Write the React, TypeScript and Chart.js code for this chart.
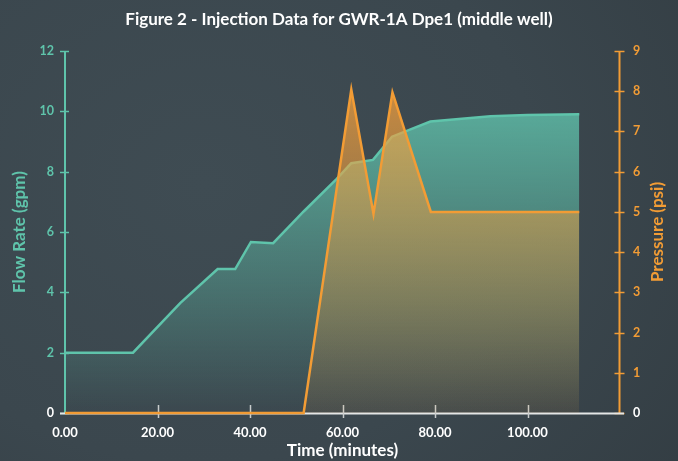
import React, { useEffect, useRef } from "react";
import { Chart, registerables } from "chart.js";

Chart.register(...registerables);

const TITLE = "Figure 2 - Injection Data for GWR-1A Dpe1 (middle well)";
const X_TITLE = "Time (minutes)";
const FLOW_TITLE = "Flow Rate (gpm)";
const PRESSURE_TITLE = "Pressure (psi)";

const flowTimes = [0, 14.7, 24.9, 33.0, 36.8, 40.2, 45.0, 51.6, 58.7, 61.9, 66.6, 70.7, 79.0, 92.0, 100.0, 111.2];
const flowValues = [2.0, 2.0, 3.64, 4.77, 4.77, 5.67, 5.63, 6.68, 7.75, 8.28, 8.39, 9.16, 9.66, 9.84, 9.88, 9.9];

const pressureTimes = [0, 51.6, 61.9, 66.7, 70.8, 79.1, 111.2];
const pressureValues = [0, 0, 8.04, 4.95, 7.97, 5.0, 5.0];

const xTickMax = 100;

const TEAL = "#5fc4ab";
const ORANGE = "#f29c35";
const FONT = "Lato, 'Open Sans', sans-serif";

const axisPlugin = {
  id: "customAxes",
  beforeDatasetsDraw(chart: any) {
    const { ctx, chartArea } = chart;
    const { left, right, top, bottom } = chartArea;
    const sx = chart.scales.x;
    const sy = chart.scales.y;
    const sy1 = chart.scales.y1;
    ctx.save();
    // left axis
    ctx.strokeStyle = TEAL;
    ctx.lineWidth = 2;
    ctx.beginPath();
    ctx.moveTo(left, top);
    ctx.lineTo(left, bottom);
    ctx.stroke();
    sy.ticks.forEach((t: any) => {
      const y = Math.round(sy.getPixelForValue(t.value)) + 0.5;
      ctx.lineWidth = 1.5;
      ctx.beginPath();
      ctx.moveTo(left - 5, y);
      ctx.lineTo(left + 4, y);
      ctx.stroke();
    });
    // right axis
    ctx.strokeStyle = ORANGE;
    ctx.lineWidth = 2;
    const rx = right - 0.5;
    ctx.beginPath();
    ctx.moveTo(rx, top);
    ctx.lineTo(rx, bottom);
    ctx.stroke();
    sy1.ticks.forEach((t: any) => {
      const y = Math.round(sy1.getPixelForValue(t.value)) + 0.5;
      ctx.lineWidth = 1.5;
      ctx.beginPath();
      ctx.moveTo(rx - 5, y);
      ctx.lineTo(rx + 5, y);
      ctx.stroke();
    });
    // x axis
    ctx.strokeStyle = "#e4e6e6";
    ctx.lineWidth = 2;
    ctx.beginPath();
    ctx.moveTo(left - 5, bottom + 0.5);
    ctx.lineTo(right + 4, bottom + 0.5);
    ctx.stroke();
    ctx.strokeStyle = "#c9cccc";
    ctx.lineWidth = 1.5;
    sx.ticks.forEach((t: any) => {
      if (t.value === 0) return;
      const x = Math.round(sx.getPixelForValue(t.value)) + 0.5;
      ctx.beginPath();
      ctx.moveTo(x, bottom - 8);
      ctx.lineTo(x, bottom + 5);
      ctx.stroke();
    });
    ctx.restore();
  },
  afterDraw(chart: any) {
    const { ctx, chartArea } = chart;
    ctx.save();
    ctx.translate(657.5, (chartArea.top + chartArea.bottom) / 2);
    ctx.rotate(-Math.PI / 2);
    ctx.font = `bold 17px ${FONT}`;
    ctx.fillStyle = ORANGE;
    ctx.textAlign = "center";
    ctx.textBaseline = "middle";
    ctx.fillText(PRESSURE_TITLE, 0, 0);
    ctx.restore();
  },
};

function vGradient(chart: any, stops: [number, string][]) {
  const { ctx, chartArea } = chart;
  if (!chartArea) return "rgba(0,0,0,0)";
  const g = ctx.createLinearGradient(0, chartArea.top, 0, chartArea.bottom);
  stops.forEach(([o, c]) => g.addColorStop(o, c));
  return g;
}

export default function App() {
  const ref = useRef<HTMLCanvasElement>(null);

  useEffect(() => {
    if (!ref.current) return;
    const chart = new Chart(ref.current, {
      type: "line",
      data: {
        datasets: [
          {
            label: "Pressure",
            data: pressureTimes.map((t, i) => ({ x: t, y: pressureValues[i] })),
            yAxisID: "y1",
            borderColor: ORANGE,
            borderWidth: 2.5,
            pointRadius: 0,
            fill: "origin",
            backgroundColor: (c: any) =>
              vGradient(c.chart, [
                [0, "rgba(242,160,62,0.85)"],
                [1, "rgba(242,160,62,0.08)"],
              ]),
            clip: 6,
            order: 0,
          } as any,
          {
            label: "Flow",
            data: flowTimes.map((t, i) => ({ x: t, y: flowValues[i] })),
            yAxisID: "y",
            borderColor: TEAL,
            borderWidth: 2.5,
            pointRadius: 0,
            fill: "origin",
            backgroundColor: (c: any) =>
              vGradient(c.chart, [
                [0, "rgba(98,200,176,0.92)"],
                [1, "rgba(98,200,176,0.0)"],
              ]),
            clip: 6,
            order: 1,
          } as any,
        ],
      },
      options: {
        responsive: false,
        animation: false,
        layout: { padding: 0 },
        plugins: {
          legend: { display: false },
          tooltip: { enabled: false },
          title: {
            display: true,
            text: TITLE,
            color: "#ffffff",
            font: { family: FONT, size: 17, weight: "bold", lineHeight: 1.2 },
            padding: { top: 9, bottom: 21.6 },
          },
        },
        scales: {
          x: {
            type: "linear",
            min: 0,
            max: 120,
            afterBuildTicks: (s: any) => {
              s.ticks = s.ticks.filter((t: any) => t.value <= xTickMax);
            },
            afterFit: (s: any) => {
              s.height = 48;
            },
            grid: { display: false, drawTicks: false },
            border: { display: false },
            ticks: {
              stepSize: 20,
              color: "#ffffff",
              padding: 12,
              maxRotation: 0,
              font: { family: FONT, size: 13, weight: "bold" },
              callback: (v: any) => Number(v).toFixed(2),
            },
            title: {
              display: true,
              text: X_TITLE,
              color: "#ffffff",
              font: { family: FONT, size: 17, weight: "bold", lineHeight: 1 },
              padding: { top: 0, bottom: 1.5 },
            },
          },
          y: {
            type: "linear",
            position: "left",
            min: 0,
            max: 12,
            afterFit: (s: any) => {
              s.width = 65;
            },
            grid: { display: false, drawTicks: false },
            border: { display: false },
            ticks: {
              stepSize: 2,
              padding: 11,
              color: (c: any) => (c.tick && c.tick.value === 0 ? "#ffffff" : TEAL),
              font: { family: FONT, size: 12.5, weight: "bold" },
            },
            title: {
              display: true,
              text: FLOW_TITLE,
              color: TEAL,
              font: { family: FONT, size: 17, weight: "bold", lineHeight: 1.2 },
              padding: { top: 9.8, bottom: 0 },
            },
          },
          y1: {
            type: "linear",
            position: "right",
            min: 0,
            max: 9,
            afterFit: (s: any) => {
              s.width = 58;
            },
            grid: { display: false, drawTicks: false },
            border: { display: false },
            ticks: {
              stepSize: 1,
              padding: 13,
              color: (c: any) => (c.tick && c.tick.value === 0 ? "#ffffff" : ORANGE),
              font: { family: FONT, size: 12.5, weight: "bold" },
            },
          },
        },
      } as any,
      plugins: [axisPlugin],
    });
    return () => chart.destroy();
  }, []);

  return (
    <div
      style={{
        position: "absolute",
        left: 0,
        top: 0,
        width: 678,
        height: 461,
        background:
          "radial-gradient(ellipse 90% 110% at 30% 40%, #3f4c53 0%, #3b474e 55%, #333d43 100%)",
      }}
    >
      <canvas ref={ref} width={678} height={461} style={{ display: "block" }} />
    </div>
  );
}
